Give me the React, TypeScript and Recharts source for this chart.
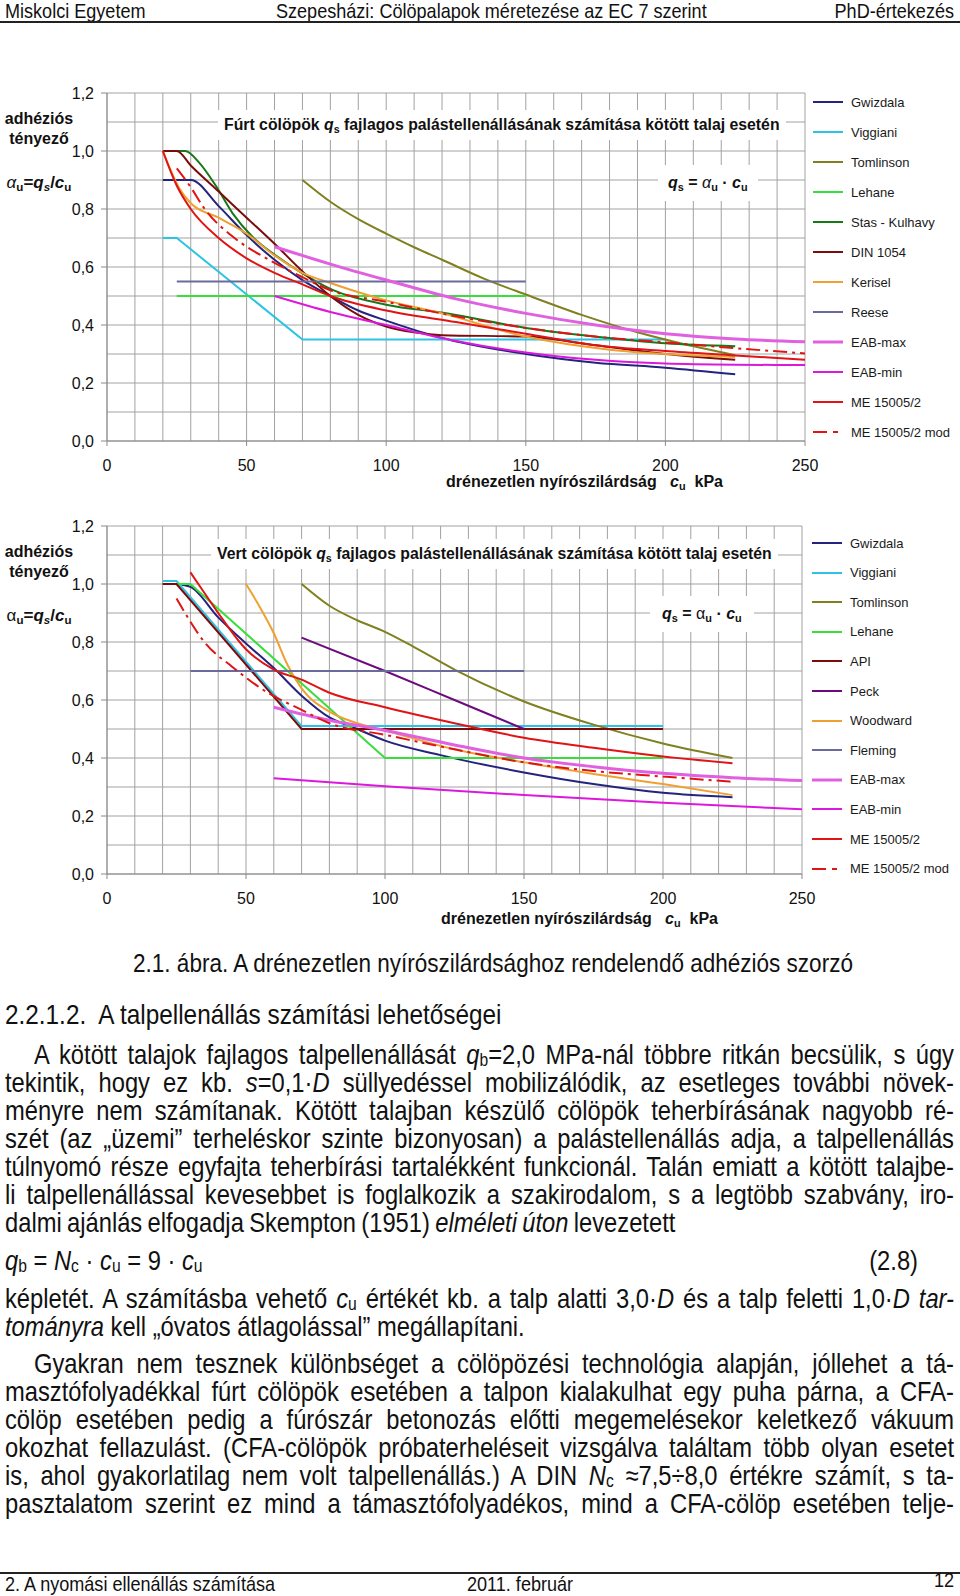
import { CartesianGrid, Line, LineChart, XAxis, YAxis } from 'recharts'
import type { ReactNode } from 'react'

// axis + grid values
const xTicks = [0, 50, 100, 150, 200, 250]
const yTicks = [0, 0.2, 0.4, 0.6, 0.8, 1.0, 1.2]
const gridX = [0, 10, 20, 30, 40, 50, 60, 70, 80, 90, 100, 110, 120, 130, 140, 150, 160, 170, 180, 190, 200, 210, 220, 230, 240, 250]
const gridY = [0, 0.1, 0.2, 0.3, 0.4, 0.5, 0.6, 0.7, 0.8, 0.9, 1.0, 1.1, 1.2]

// Fúrt cölöpök (bored piles) — [cu, alpha]
const furtGwizdala = [[20, 0.9], [30, 0.9], [40, 0.81], [50, 0.71], [60, 0.625], [70, 0.555], [80, 0.5], [90, 0.45], [100, 0.415], [120, 0.355], [150, 0.3], [175, 0.27], [200, 0.253], [225, 0.23]]
const furtViggiani = [[20, 0.7], [25, 0.7], [70, 0.35], [200, 0.35]]
const furtTomlinson = [[70, 0.9], [80, 0.825], [90, 0.765], [100, 0.715], [110, 0.668], [120, 0.625], [135, 0.56], [150, 0.505], [170, 0.435], [190, 0.375], [205, 0.338], [225, 0.296]]
const furtLehane = [[25, 0.5], [150, 0.5]]
const furtStas = [[22, 1.0], [28, 1.0], [33, 0.96], [39, 0.88], [45, 0.785], [52, 0.705], [61, 0.636], [69, 0.584], [81, 0.52], [100, 0.47], [122, 0.44], [150, 0.39], [180, 0.355], [200, 0.337], [225, 0.327]]
const furtDin = [[20, 1.0], [25, 1.0], [30, 0.95], [40, 0.86], [50, 0.77], [60, 0.68], [70, 0.585], [80, 0.5], [90, 0.435], [100, 0.395], [110, 0.375], [120, 0.365], [150, 0.36], [175, 0.33], [200, 0.3], [225, 0.28]]
const furtKerisel = [[20, 1.0], [23, 0.93], [26, 0.87], [30, 0.82], [40, 0.77], [50, 0.715], [60, 0.64], [70, 0.58], [80, 0.545], [100, 0.485], [120, 0.44], [150, 0.36], [180, 0.315], [200, 0.3], [225, 0.29]]
const furtReese = [[25, 0.55], [150, 0.55]]
const furtEabMax = [[60, 0.67], [80, 0.61], [100, 0.555], [125, 0.49], [150, 0.44], [175, 0.4], [200, 0.37], [225, 0.352], [250, 0.342]]
const furtEabMin = [[60, 0.5], [80, 0.445], [100, 0.4], [125, 0.345], [150, 0.305], [175, 0.28], [200, 0.267], [225, 0.263], [250, 0.262]]
const furtMe = [[20, 1.0], [25, 0.88], [30, 0.8], [40, 0.7], [50, 0.63], [60, 0.58], [70, 0.54], [80, 0.5], [100, 0.45], [125, 0.41], [150, 0.37], [175, 0.33], [200, 0.31], [225, 0.295], [250, 0.28]]
const furtMeMod = [[25, 0.94], [30, 0.875], [35, 0.8], [45, 0.705], [58, 0.625], [70, 0.565], [80, 0.52], [100, 0.48], [125, 0.43], [150, 0.39], [175, 0.36], [200, 0.34], [225, 0.32], [250, 0.302]]

// Vert cölöpök (driven piles)
const vertGwizdala = [[25, 1.0], [30, 0.99], [40, 0.885], [50, 0.795], [60, 0.71], [70, 0.615], [80, 0.54], [90, 0.5], [100, 0.46], [120, 0.41], [150, 0.35], [175, 0.31], [200, 0.28], [225, 0.265]]
const vertViggiani = [[20, 1.01], [25, 1.01], [70, 0.51], [200, 0.51]]
const vertTomlinson = [[70, 1.0], [80, 0.925], [90, 0.875], [100, 0.835], [110, 0.785], [125, 0.705], [150, 0.595], [175, 0.515], [200, 0.45], [225, 0.4]]
const vertLehane = [[25, 1.0], [30, 1.0], [100, 0.4], [200, 0.4]]
const vertApi = [[20, 1.0], [25, 1.0], [70, 0.5], [200, 0.5]]
const vertPeck = [[70, 0.815], [100, 0.7], [125, 0.6], [150, 0.5]]
const vertWoodward = [[50, 1.0], [55, 0.92], [60, 0.83], [65, 0.72], [70, 0.64], [80, 0.56], [90, 0.52], [100, 0.495], [125, 0.43], [150, 0.385], [175, 0.345], [200, 0.31], [225, 0.272]]
const vertFleming = [[30, 0.7], [150, 0.7]]
const vertEabMax = [[60, 0.575], [80, 0.53], [100, 0.495], [125, 0.445], [150, 0.4], [175, 0.37], [200, 0.347], [225, 0.332], [250, 0.322]]
const vertEabMin = [[60, 0.33], [100, 0.303], [150, 0.272], [200, 0.246], [250, 0.223]]
const vertMe = [[30, 1.04], [35, 0.97], [40, 0.9], [50, 0.775], [60, 0.705], [70, 0.67], [80, 0.625], [100, 0.575], [125, 0.52], [150, 0.47], [175, 0.435], [200, 0.405], [225, 0.382]]
const vertMeMod = [[25, 0.95], [30, 0.87], [35, 0.8], [45, 0.715], [57, 0.63], [70, 0.566], [80, 0.52], [100, 0.48], [125, 0.43], [150, 0.385], [175, 0.355], [200, 0.336], [225, 0.318]]

const CHART_FONT = '"Liberation Sans", Arial, sans-serif'
const TEXT_FONT = '"Liberation Sans", Arial, sans-serif'
const SQUEEZE = 0.86
const ME_DASH = '14 5 3 5'

interface Series {
  name: string
  data: number[][]
  color: string
  width?: number
  dash?: string
  curve?: 'linear' | 'monotone'
}

const furtSeries: Series[] = [
  { name: 'Gwizdala', data: furtGwizdala, color: '#24247e' },
  { name: 'Viggiani', data: furtViggiani, color: '#2cc4e4', curve: 'linear' },
  { name: 'Tomlinson', data: furtTomlinson, color: '#808020' },
  { name: 'Lehane', data: furtLehane, color: '#3ade3a', curve: 'linear' },
  { name: 'Stas - Kulhavy', data: furtStas, color: '#187818' },
  { name: 'DIN 1054', data: furtDin, color: '#7c0c0c' },
  { name: 'Kerisel', data: furtKerisel, color: '#f0a030' },
  { name: 'Reese', data: furtReese, color: '#6a6a9c', curve: 'linear' },
  { name: 'EAB-max', data: furtEabMax, color: '#e060e0', width: 3 },
  { name: 'EAB-min', data: furtEabMin, color: '#dd18dd' },
  { name: 'ME 15005/2', data: furtMe, color: '#e01414' },
  { name: 'ME 15005/2 mod', data: furtMeMod, color: '#e01414', dash: ME_DASH },
]

const vertSeries: Series[] = [
  { name: 'Gwizdala', data: vertGwizdala, color: '#24247e' },
  { name: 'Viggiani', data: vertViggiani, color: '#2cc4e4', curve: 'linear' },
  { name: 'Tomlinson', data: vertTomlinson, color: '#808020' },
  { name: 'Lehane', data: vertLehane, color: '#3ade3a', curve: 'linear' },
  { name: 'API', data: vertApi, color: '#7c0c0c', curve: 'linear' },
  { name: 'Peck', data: vertPeck, color: '#6c0c7c' },
  { name: 'Woodward', data: vertWoodward, color: '#f0a030' },
  { name: 'Fleming', data: vertFleming, color: '#6a6a9c', curve: 'linear' },
  { name: 'EAB-max', data: vertEabMax, color: '#e060e0', width: 3 },
  { name: 'EAB-min', data: vertEabMin, color: '#dd18dd' },
  { name: 'ME 15005/2', data: vertMe, color: '#e01414' },
  { name: 'ME 15005/2 mod', data: vertMeMod, color: '#e01414', dash: ME_DASH },
]

const toPoints = (arr: number[][]) => arr.map(([x, y]) => ({ x, y }))
const comma = (v: number) => v.toFixed(1).replace('.', ',')

function PileChart({ top, margin, series }: { top: number; margin: { top: number; right: number; bottom: number; left: number }; series: Series[] }) {
  return (
    <div style={{ position: 'absolute', left: 0, top, width: 960, height: 440 }}>
      <LineChart width={960} height={440} margin={margin}>
        <CartesianGrid stroke="#a2a2a2" verticalValues={gridX} horizontalValues={gridY} />
        <XAxis
          type="number"
          dataKey="x"
          domain={[0, 250]}
          ticks={xTicks}
          interval={0}
          allowDataOverflow
          height={30}
          axisLine={{ stroke: '#8a8a8a' }}
          tickLine={{ stroke: '#8a8a8a' }}
          tickSize={5}
          tickMargin={14}
          tick={{ fill: '#111', fontSize: 16, fontFamily: CHART_FONT }}
        />
        <YAxis
          type="number"
          domain={[0, 1.2]}
          ticks={yTicks}
          interval={0}
          allowDataOverflow
          width={50}
          tickFormatter={comma}
          axisLine={{ stroke: '#8a8a8a' }}
          tickLine={{ stroke: '#8a8a8a' }}
          tickSize={6}
          tickMargin={7}
          tick={{ fill: '#111', fontSize: 16, fontFamily: CHART_FONT }}
        />
        {series.map((s) => (
          <Line
            key={s.name}
            data={toPoints(s.data)}
            dataKey="y"
            name={s.name}
            type={s.curve ?? 'monotone'}
            stroke={s.color}
            strokeWidth={s.width ?? 2}
            strokeDasharray={s.dash}
            dot={false}
            activeDot={false}
            isAnimationActive={false}
          />
        ))}
      </LineChart>
    </div>
  )
}

function ChartLegend({ series, top, step, left }: { series: Series[]; top: number; step: number; left: number }) {
  return (
    <>
      {series.map((s, i) => (
        <div
          key={s.name}
          style={{ position: 'absolute', left, top: top + i * step - 9, height: 18, display: 'flex', alignItems: 'center', fontFamily: CHART_FONT, fontSize: 13, color: '#1a1a1a', whiteSpace: 'nowrap' }}
        >
          <svg width={38} height={6}>
            <line x1={0} y1={3} x2={30} y2={3} stroke={s.color} strokeWidth={s.width ?? 2} strokeDasharray={s.dash ? '14 6 5 100' : undefined} />
          </svg>
          {s.name}
        </div>
      ))}
    </>
  )
}

function Box({ x, cy, children, size = 15.8, pad = 6, h = 30 }: { x: number; cy: number; children: ReactNode; size?: number; pad?: number; h?: number }) {
  return (
    <div
      style={{ position: 'absolute', left: x - pad, top: cy - h / 2, height: h, lineHeight: `${h}px`, padding: `0 ${pad}px`, background: '#fff', fontFamily: CHART_FONT, fontSize: size, fontWeight: 700, color: '#111', whiteSpace: 'nowrap' }}
    >
      {children}
    </div>
  )
}

function Label({ x, cy, w, children, size = 16, align = 'center' }: { x: number; cy: number; w: number; children: ReactNode; size?: number; align?: 'center' | 'left' }) {
  return (
    <div
      style={{ position: 'absolute', left: x, top: cy - 10, width: w, height: 20, lineHeight: '20px', textAlign: align, fontFamily: CHART_FONT, fontSize: size, fontWeight: 700, color: '#111', whiteSpace: 'nowrap' }}
    >
      {children}
    </div>
  )
}

// subscript that does not grow the line box
const sub = (t: string, italic = false) => (
  <span style={{ fontSize: '0.68em', position: 'relative', top: '0.25em', fontStyle: italic ? 'italic' : 'normal' }}>{t}</span>
)
// smaller shift for the tightly spaced body text
const bsub = (t: string) => (
  <span style={{ fontSize: '0.66em', position: 'relative', top: '0.1em', lineHeight: 1 }}>{t}</span>
)

function YTitle({ top, uprightAlpha }: { top: number; uprightAlpha?: boolean }) {
  return (
    <>
      <Label x={0} cy={top} w={78}>adhéziós</Label>
      <Label x={0} cy={top + 20} w={78}>tényező</Label>
      <Label x={0} cy={top + 64} w={78} size={17}>
        <span style={{ fontStyle: uprightAlpha ? 'normal' : 'italic', fontWeight: 400 }}>α</span>
        {sub('u')}=<i>q</i>
        {sub('s', true)}/<i>c</i>
        {sub('u')}
      </Label>
    </>
  )
}

function XTitle({ x, cy }: { x: number; cy: number }) {
  return (
    <Label x={x} cy={cy} w={300} align="left">
      drénezetlen nyírószilárdság&nbsp;&nbsp; <i>c</i>
      {sub('u')}&nbsp; kPa
    </Label>
  )
}

function TextLine({ x, cy, w, size, children, justify = false, align = 'left', h = 28, s = SQUEEZE, ws = 0 }: { x: number; cy: number; w: number; size: number; children: ReactNode; justify?: boolean; align?: 'left' | 'center' | 'right'; h?: number; s?: number; ws?: number }) {
  const a = justify ? 'justify' : align
  return (
    <div style={{ position: 'absolute', left: x, top: cy - h / 2, width: w, height: h }}>
      <div
        style={{ width: w / s, transform: `scaleX(${s})`, transformOrigin: '0 0', fontFamily: TEXT_FONT, fontSize: size, lineHeight: `${h}px`, textAlign: a, textAlignLast: a, wordSpacing: ws, color: '#111' }}
      >
        {children}
      </div>
    </div>
  )
}

const BODY = 27.6
const WS = -1.5
const bodyLines1: ReactNode[] = [
  <>A kötött talajok fajlagos talpellenállását <i>q</i>{bsub('b')}=2,0 MPa-nál többre ritkán becsülik, s úgy</>,
  <>tekintik, hogy ez kb. <i>s</i>=0,1·<i>D</i> süllyedéssel mobilizálódik, az esetleges további növek-</>,
  <>ményre nem számítanak. Kötött talajban készülő cölöpök teherbírásának nagyobb ré-</>,
  <>szét (az „üzemi” terheléskor szinte bizonyosan) a palástellenállás adja, a talpellenállás</>,
  <>túlnyomó része egyfajta teherbírási tartalékként funkcionál. Talán emiatt a kötött talajbe-</>,
  <>li talpellenállással kevesebbet is foglalkozik a szakirodalom, s a legtöbb szabvány, iro-</>,
]
const bodyLines2: ReactNode[] = [
  <>Gyakran nem tesznek különbséget a cölöpözési technológia alapján, jóllehet a tá-</>,
  <>masztófolyadékkal fúrt cölöpök esetében a talpon kialakulhat egy puha párna, a CFA-</>,
  <>cölöp esetében pedig a fúrószár betonozás előtti megemelésekor keletkező vákuum</>,
  <>okozhat fellazulást. (CFA-cölöpök próbaterheléseit vizsgálva találtam több olyan esetet</>,
  <>is, ahol gyakorlatilag nem volt talpellenállás.) A DIN <i>N</i>{bsub('c')} ≈7,5÷8,0 értékre számít, s ta-</>,
  <>pasztalatom szerint ez mind a támasztófolyadékos, mind a CFA-cölöp esetében telje-</>,
]

export default function App() {
  return (
    <div style={{ position: 'absolute', left: 0, top: 0, width: 960, height: 1596, background: '#fff', overflow: 'hidden' }}>
      {/* header */}
      <TextLine x={5} cy={11} w={300} size={21} h={22}>Miskolci Egyetem</TextLine>
      <TextLine x={276} cy={11} w={500} size={21} h={22}>Szepesházi: Cölöpalapok méretezése az EC 7 szerint</TextLine>
      <TextLine x={754} cy={11} w={200} size={21} h={22} align="right">PhD-értekezés</TextLine>
      <div style={{ position: 'absolute', left: 0, top: 21, width: 960, height: 2, background: '#222' }} />

      {/* chart 1 */}
      <PileChart top={70} margin={{ top: 23, right: 155, bottom: 39, left: 57 }} series={furtSeries} />
      <Box x={224} cy={125}>
        Fúrt cölöpök <i>q</i>
        {sub('s')} fajlagos palástellenállásának számítása kötött talaj esetén
      </Box>
      <Box x={668} cy={183} size={16} pad={10} h={36}>
        <i>q</i>
        {sub('s')} = <span style={{ fontStyle: 'italic', fontWeight: 400 }}>α</span>
        {sub('u')} · <i>c</i>
        {sub('u')}
      </Box>
      <YTitle top={119} />
      <XTitle x={446} cy={482} />
      <ChartLegend series={furtSeries} top={102} step={30} left={813} />

      {/* chart 2 */}
      <PileChart top={500} margin={{ top: 26, right: 158, bottom: 36, left: 57 }} series={vertSeries} />
      <Box x={217} cy={554}>
        Vert cölöpök <i>q</i>
        {sub('s')} fajlagos palástellenállásának számítása kötött talaj esetén
      </Box>
      <Box x={662} cy={614} size={16} pad={12} h={36}>
        <i>q</i>
        {sub('s')} = <span style={{ fontWeight: 400 }}>α</span>
        {sub('u')} · <i>c</i>
        {sub('u')}
      </Box>
      <YTitle top={552} uprightAlpha />
      <XTitle x={441} cy={919} />
      <ChartLegend series={vertSeries} top={543} step={29.6} left={812} />

      {/* caption + text */}
      <TextLine x={93} cy={963} w={800} size={26.2} h={30} align="center">
        2.1. ábra. A drénezetlen nyírószilárdsághoz rendelendő adhéziós szorzó
      </TextLine>
      <TextLine x={5} cy={1014} w={600} size={28.3} h={30}>
        2.2.1.2.&nbsp; A talpellenállás számítási lehetőségei
      </TextLine>
      {bodyLines1.map((l, i) => (
        <TextLine key={i} x={i === 0 ? 34 : 5} cy={1055 + i * 28} w={i === 0 ? 920 : 949} size={BODY} ws={WS} justify>
          {l}
        </TextLine>
      ))}
      <TextLine x={5} cy={1223} w={949} size={BODY} ws={WS}>
        dalmi ajánlás elfogadja Skempton (1951) <i>elméleti úton</i> levezetett
      </TextLine>
      <TextLine x={5} cy={1261} w={600} size={BODY}>
        <i>q</i>{bsub('b')} = <i>N</i>{bsub('c')} · <i>c</i>{bsub('u')} = 9 · <i>c</i>{bsub('u')}
      </TextLine>
      <TextLine x={818} cy={1261} w={100} size={BODY} align="right">(2.8)</TextLine>
      <TextLine x={5} cy={1299} w={949} size={BODY} ws={WS} justify>
        képletét. A számításba vehető <i>c</i>{bsub('u')} értékét kb. a talp alatti 3,0·<i>D</i> és a talp feletti 1,0·<i>D tar-</i>
      </TextLine>
      <TextLine x={5} cy={1327} w={949} size={BODY}>
        <i>tományra</i> kell „óvatos átlagolással” megállapítani.
      </TextLine>
      {bodyLines2.map((l, i) => (
        <TextLine key={i} x={i === 0 ? 34 : 5} cy={1364 + i * 28} w={i === 0 ? 920 : 949} size={BODY} ws={WS} justify>
          {l}
        </TextLine>
      ))}

      {/* footer */}
      <div style={{ position: 'absolute', left: 0, top: 1572, width: 960, height: 2, background: '#222' }} />
      <TextLine x={5} cy={1584} w={400} size={21} h={22}>2. A nyomási ellenállás számítása</TextLine>
      <TextLine x={467} cy={1584} w={200} size={21} h={22}>2011. február</TextLine>
      <TextLine x={854} cy={1580} w={100} size={21} h={22} align="right">12</TextLine>
    </div>
  )
}
